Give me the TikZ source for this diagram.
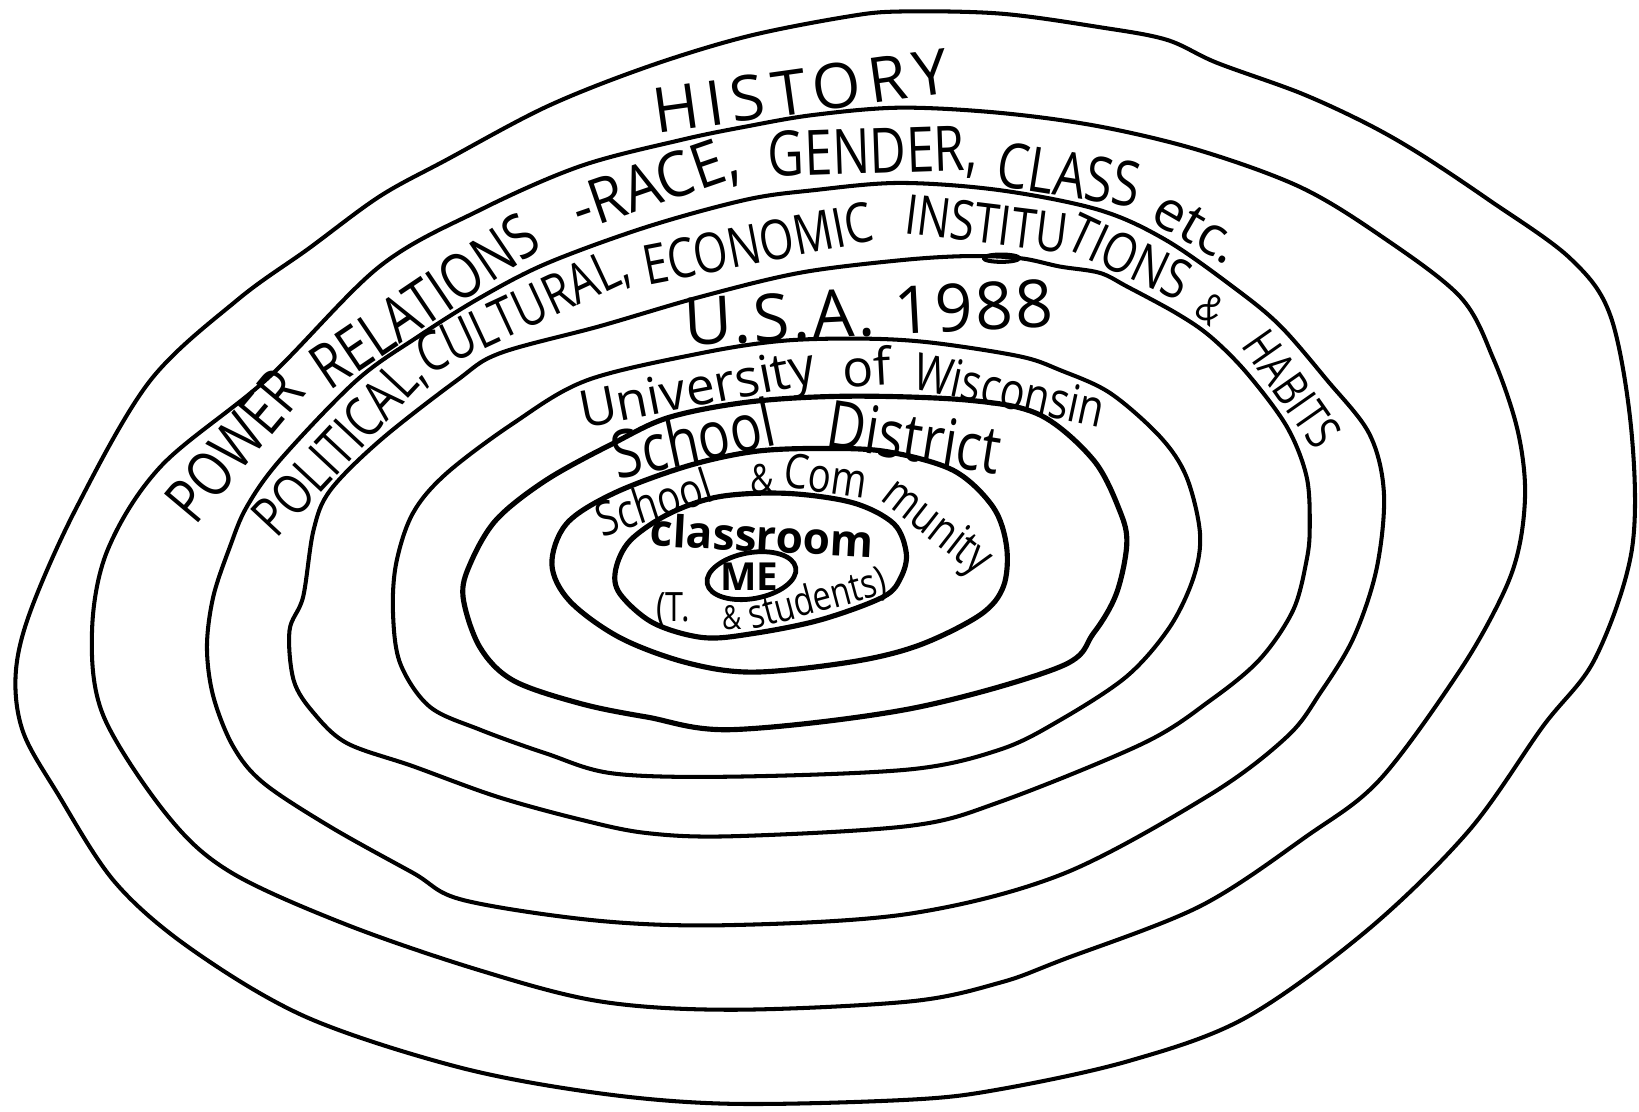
\documentclass[tikz,border=0pt]{standalone}
\usepackage{fontspec}
\usepackage{graphicx}
\setmainfont{Open Sans}
\newcommand{\narrowtxt}[1]{\scalebox{0.8}[1]{#1}}
\begin{document}
\begin{tikzpicture}[x=0.01cm,y=0.01cm,
  ring/.style={line width=1.1pt, line join=round, line cap=round},
  inring/.style={line width=1.4pt, line join=round, line cap=round},
  lbl/.style={inner sep=0pt, font=\fontsize{#1}{#1}\selectfont},
  blbl/.style={inner sep=0pt, font=\bfseries\fontsize{#1}{#1}\selectfont}]
\useasboundingbox (0,0) rectangle (1568,-1063);
\fill[white] (0,0) rectangle (1568,-1063);

% ring 1 (History)
\draw[ring] plot[smooth cycle, tension=0.55] coordinates {
 (363,-188) (427,-153) (523,-102) (619,-64) (714,-35) (810,-16) (861,-11) (957,-13)
 (1052,-26) (1116,-38) (1164,-60) (1244,-89) (1307,-118) (1358,-147) (1424,-191)
 (1502,-247) (1541,-303) (1561,-415) (1561,-527) (1526,-630) (1476,-695) (1405,-795)
 (1308,-890) (1191,-974) (1080,-1015) (957,-1042) (871,-1052) (700,-1056) (574,-1046)
 (439,-1021) (293,-973) (183,-908) (110,-844) (55,-759) (22,-700) (15,-645) (29,-585)
 (73,-486) (143,-365) (227,-287) (295,-238)};
% ring 2 (Power relations)
\draw[ring] plot[smooth cycle, tension=0.55] coordinates {
 (363,-255) (459,-201) (555,-159) (651,-134) (714,-121) (778,-110) (861,-103) (957,-108)
 (1052,-121) (1148,-144) (1244,-179) (1320,-225) (1397,-284) (1429,-344) (1451,-408)
 (1459,-465) (1454,-520) (1438,-568) (1397,-641) (1320,-746) (1250,-800) (1148,-867)
 (1017,-918) (957,-940) (871,-958) (700,-966) (574,-958) (458,-928) (330,-884)
 (220,-834) (160,-780) (99,-685) (88,-605) (103,-526) (154,-446) (256,-362)};
% ring 3 (institutions)
\draw[ring] plot[smooth cycle, tension=0.55] coordinates {
 (459,-285) (523,-252) (619,-217) (714,-191) (778,-182) (861,-175) (957,-182) (1052,-201)
 (1116,-230) (1183,-277) (1225,-312) (1269,-363) (1310,-415) (1324,-472) (1317,-544)
 (1295,-610) (1263,-663) (1231,-705) (1158,-760) (1017,-836) (871,-874) (700,-885)
 (574,-881) (443,-861) (395,-835) (316,-791) (252,-749) (223,-714) (204,-666) (198,-619)
 (204,-571) (220,-523) (236,-485) (268,-440) (341,-364) (400,-322)};
% ring 4 (USA)
\draw[ring] plot[smooth cycle, tension=0.55] coordinates {
 (478,-338) (574,-312) (670,-284) (765,-261) (861,-249) (925,-245) (976,-247) (1014,-255)
 (1052,-261) (1078,-274) (1126,-300) (1158,-322) (1193,-357) (1231,-408) (1250,-456)
 (1253,-504) (1250,-536) (1237,-584) (1205,-631) (1158,-670) (1094,-711) (957,-767)
 (871,-790) (701,-800) (619,-797) (555,-784) (475,-762) (395,-733) (332,-711) (300,-682)
 (281,-651) (277,-603) (290,-571) (300,-507) (316,-469) (364,-421) (437,-364)};
\draw[ring] (958,-247) ellipse [x radius=0.17cm, y radius=0.035cm];
% ring 5 (University)
\draw[ring] plot[smooth cycle, tension=0.55] coordinates {
 (561,-364) (670,-338) (749,-326) (829,-324) (893,-328) (976,-341) (1014,-354) (1062,-376)
 (1110,-418) (1135,-456) (1148,-510) (1142,-552) (1119,-600) (1078,-647) (1014,-689)
 (957,-717) (871,-736) (701,-743) (587,-740) (523,-721) (459,-698) (411,-676) (383,-635)
 (376,-587) (379,-539) (395,-491) (427,-453) (491,-405)};
% ring 6 (School district)
\draw[inring] plot[smooth cycle, tension=0.55] coordinates {
 (523,-459) (587,-424) (641,-399) (721,-384) (816,-379) (928,-383) (995,-397) (1046,-440)
 (1071,-488) (1078,-520) (1068,-568) (1046,-606) (1014,-638) (871,-678) (701,-698)
 (619,-686) (555,-673) (491,-651) (459,-619) (443,-571) (450,-539) (475,-497)};
% ring 7 (School & community)
\draw[inring] plot[smooth cycle, tension=0.55] coordinates {
 (542,-501) (587,-472) (657,-446) (721,-432) (785,-429) (848,-432) (912,-450) (950,-485)
 (963,-523) (960,-561) (938,-588) (880,-617) (816,-633) (721,-643) (657,-634) (593,-610)
 (545,-575) (528,-540)};
% ring 8 (classroom)
\draw[inring] plot[smooth cycle, tension=0.55] coordinates {
 (603,-517) (641,-491) (689,-475) (753,-472) (816,-481) (855,-501) (867,-529) (862,-552)
 (845,-571) (785,-593) (721,-606) (673,-610) (625,-596) (593,-568) (589,-545)};

% HISTORY
\node[lbl=17, rotate=8] (history) at (766,-87) {\addfontfeature{LetterSpace=12}HISTORY};
% power relations band
\node[lbl=17, rotate=50] (power) at (224,-426) {\narrowtxt{POWER}};
\node[lbl=17, rotate=34] (relations) at (406,-288) {\narrowtxt{RELATIONS}};
\node[lbl=17, rotate=19] (race) at (627,-178) {\scalebox{0.92}[1]{-RACE,}};
\node[lbl=17, rotate=2] (gender) at (835,-148) {\narrowtxt{GENDER,}};
\node[lbl=17, rotate=-9] (class) at (1023,-167) {\narrowtxt{CLASS}};
\node[lbl=15, rotate=-30] (etc) at (1145,-218) {etc.};
% institutions band
\node[lbl=15, rotate=47] (political) at (326,-428) {\narrowtxt{POLITICAL,}};
\node[lbl=15, rotate=25] (cultural) at (501,-299) {\narrowtxt{CULTURAL,}};
\node[lbl=15, rotate=11] (economic) at (725,-233) {\narrowtxt{ECONOMIC}};
\node[lbl=15, rotate=-7] (institu) at (944,-214) {\narrowtxt{INSTITU}};
\node[lbl=15, rotate=-25] (tions) at (1081,-246) {\narrowtxt{TIONS}};
\node[lbl=11, rotate=-40] (amp1) at (1158,-296) {\narrowtxt{\&}};
\node[lbl=13, rotate=-55] (habits) at (1236,-372) {\narrowtxt{HABITS}};
% USA
\node[lbl=18, rotate=3] (usa) at (831,-299) {\addfontfeature{LetterSpace=4}U.S.A. 1988};
% University
\node[lbl=14, rotate=11] (university) at (668,-376) {University};
\node[lbl=14, rotate=3] (of) at (829,-351) {of};
\node[lbl=14, rotate=-12] (wisconsin) at (966,-373) {\narrowtxt{Wisconsin}};
% School district
\node[lbl=18, rotate=12] (school) at (663,-419) {\narrowtxt{School}};
\node[lbl=18, rotate=-9] (district) at (875,-418) {\narrowtxt{District}};
% School & Community
\node[lbl=13, rotate=18] (school2) at (625,-480) {\narrowtxt{School}};
\node[lbl=11] (amp2) at (729,-458) {\narrowtxt{\&}};
\node[lbl=13, rotate=-8] (com) at (790,-455) {\narrowtxt{Com}};
\node[lbl=13, rotate=-38] (munity) at (895,-506) {\narrowtxt{munity}};
% classroom
\node[blbl=12, rotate=-3] (classroom) at (729,-512) {classroom};
\node[blbl=10.5] (me) at (717,-552) {ME};
\draw[line width=1.3pt, rotate around={10:([shift={(2,1)}]me.center)}] ([shift={(2,1)}]me.center) ellipse [x radius=0.43cm, y radius=0.22cm];
\node[lbl=11] (tdot) at (644,-584) {\narrowtxt{(T.}};
\node[lbl=9] (amp3) at (700,-591) {\narrowtxt{\&}};
\node[lbl=11, rotate=15] (students) at (782,-574) {\narrowtxt{students)}};
\end{tikzpicture}
\end{document}
